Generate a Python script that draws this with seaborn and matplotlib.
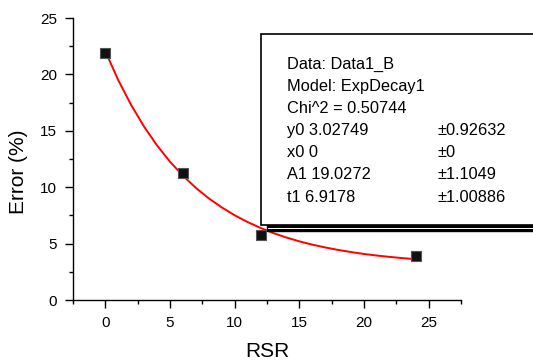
import matplotlib
matplotlib.use("Agg")
import matplotlib.pyplot as plt
from matplotlib.patches import Rectangle
from matplotlib.lines import Line2D
from matplotlib.ticker import MultipleLocator
import seaborn as sns
import pandas as pd

# data points
rsr = [0, 6, 12, 24]
error = [21.9, 11.3, 5.8, 3.9]

# fitted curve
fit_x = [0, 1, 2, 3, 4, 5, 6, 7, 8, 9, 10, 11, 12, 13, 14, 15, 16, 17, 18, 19, 20, 21, 22, 23, 24]
fit_y = [22.05, 19.49, 17.28, 15.36, 13.70, 12.26, 11.02, 9.94, 9.01, 8.21, 7.51, 6.91,
         6.39, 5.93, 5.54, 5.20, 4.91, 4.66, 4.44, 4.25, 4.08, 3.94, 3.82, 3.71, 3.62]

legend_lines = ["Data: Data1_B", "Model: ExpDecay1", "Chi^2 = 0.50744",
                "y0 3.02749", "x0 0", "A1 19.0272", "t1 6.9178"]
legend_errors = ["", "", "", "\u00b10.92632", "\u00b10", "\u00b11.1049", "\u00b11.00886"]

xticks = [0, 5, 10, 15, 20, 25]
yticks = [0, 5, 10, 15, 20, 25]

sns.set_style("ticks")
plt.rcParams['font.family'] = ['Liberation Sans', 'DejaVu Sans']
plt.rcParams['text.color'] = 'black'
plt.rcParams['axes.labelcolor'] = 'black'
plt.rcParams['xtick.color'] = 'black'
plt.rcParams['ytick.color'] = 'black'

W, H = 533, 363
fig = plt.figure(figsize=(W / 100, H / 100), dpi=100)
ax = fig.add_axes([73 / W, 1 - 300 / H, (461 - 73) / W, (300 - 18) / H])

df_fit = pd.DataFrame({"x": fit_x, "y": fit_y})
df_pts = pd.DataFrame({"x": rsr, "y": error})
sns.lineplot(data=df_fit, x="x", y="y", ax=ax, color="red", linewidth=1.4, zorder=2)
sns.scatterplot(data=df_pts, x="x", y="y", ax=ax, marker="s", s=42, color="#111111",
                edgecolor="#555555", linewidth=0.8, zorder=3, clip_on=False)

ax.set_xlim(-2.5, 27.5)
ax.set_ylim(0, 25)
ax.set_xticks(xticks)
ax.set_yticks(yticks)
ax.xaxis.set_minor_locator(MultipleLocator(2.5))
ax.yaxis.set_minor_locator(MultipleLocator(2.5))
ax.tick_params(axis='both', which='major', length=5.8, width=1.0, labelsize=11,
               color='black', labelcolor='black', direction='out')
ax.tick_params(axis='both', which='minor', length=3.2, width=1.0, color='black', direction='out')
ax.tick_params(axis='x', which='major', pad=5.8)
ax.tick_params(axis='y', which='major', pad=5.5)
for s in ['top', 'right']:
    ax.spines[s].set_visible(False)
for s in ['left', 'bottom']:
    ax.spines[s].set_linewidth(1.0)
    ax.spines[s].set_color('black')

ax.set_xlabel("RSR", fontsize=15, color='black')
ax.set_ylabel("Error (%)", fontsize=15, color='black')
ax.xaxis.set_label_coords(0.5, -0.150)
ax.yaxis.set_label_coords(-0.115, 0.454)

# fit parameter box with shadow (figure pixel coordinates)
def fx(px):
    return px / W

def fy(py):
    return 1 - py / H

shadow = Rectangle((fx(267), fy(231)), fx(540) - fx(267), fy(40) - fy(231),
                   transform=fig.transFigure, facecolor='black', edgecolor='black', zorder=5)
fig.add_artist(shadow)
fig.add_artist(Line2D([fx(268), fx(540)], [fy(228.3), fy(228.3)], transform=fig.transFigure,
                      color='white', linewidth=0.7, zorder=5.5))
box = Rectangle((fx(261), fy(224.5)), fx(540) - fx(261), fy(34) - fy(224.5),
                transform=fig.transFigure, facecolor='white', edgecolor='black',
                linewidth=1.2, zorder=6)
fig.add_artist(box)

baselines = [68.7, 90.8, 113.0, 135.0, 157.2, 179.5, 201.7]
for txt, err, b in zip(legend_lines, legend_errors, baselines):
    fig.text(fx(287), fy(b), txt, fontsize=11.8, va='baseline', ha='left', zorder=7, color='black')
    if err:
        fig.text(fx(438), fy(b), err, fontsize=11.8, va='baseline', ha='left', zorder=7, color='black')

fig.savefig("out.png", dpi=100)
